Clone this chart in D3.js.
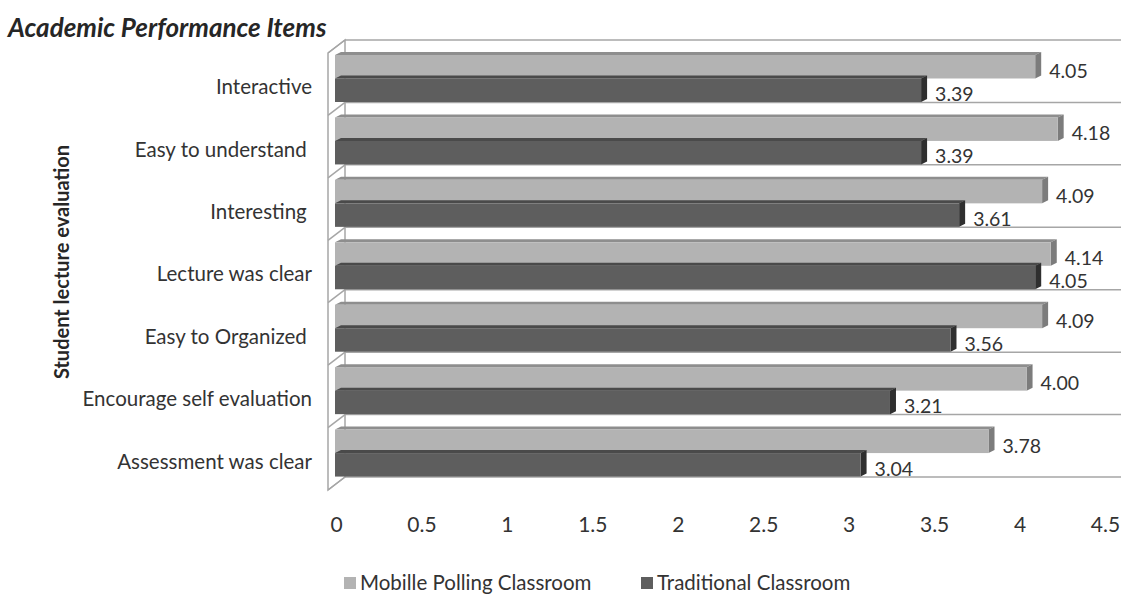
<!DOCTYPE html>
<html>
<head>
<meta charset="utf-8">
<script src="https://cdn.jsdelivr.net/npm/d3@7"></script>
<style>
  body { margin: 0; background: #fff; }
  svg { display: block; font-family: Lato, "Open Sans", sans-serif; }
</style>
</head>
<body>
<svg id="chart" width="1123" height="596"></svg>
<script>
const categories = [
  'Interactive',
  'Easy to understand ',
  'Interesting ',
  'Lecture was clear',
  'Easy to Organized ',
  'Encourage self evaluation',
  'Assessment was clear'
]
const seriesNames = ['Mobille Polling Classroom', 'Traditional Classroom']
const mobileValues = [4.05, 4.18, 4.09, 4.14, 4.09, 4.00, 3.78]
const traditionalValues = [3.39, 3.39, 3.61, 4.05, 3.56, 3.21, 3.04]
const tickValues = [0, 0.5, 1, 1.5, 2, 2.5, 3, 3.5, 4, 4.5]

const colors = {
  front: ['#b3b3b3', '#5e5e5e'],
  side: ['#7c7c7c', '#2f2f2f'],
  top: ['#8e8e8e', '#4a4a4a']
}

const svg = d3.select('#chart')

// 3d box: back wall and left floor
const depthX = 17, depthY = 13
const barDX = 6, barDY = 3

const xBar = d3.scaleLinear().domain([0, 4.5]).range([335, 1113])
const xTick = d3.scaleLinear().domain([0, 4.5]).range([336, 1105])
const xBack = d3.scaleLinear().domain([0, 4.5]).range([345, 1121])

const y = d3.scaleBand().domain(categories).range([40, 477]).padding(0)
const yInner = d3.scaleBand().domain(seriesNames).range([15, 62])

const yEdges = categories.map(c => y(c)).concat([y.range()[1]])

const g = svg.append('g')

// left wall (floor of a horizontal 3d bar chart)
const wallLeft = xBack(0) - depthX
g.append('polygon')
  .attr('points', [
    [wallLeft, yEdges[0] + depthY],
    [xBack(0), yEdges[0]],
    [xBack(0), yEdges[yEdges.length - 1]],
    [wallLeft, yEdges[yEdges.length - 1] + depthY]
  ].join(' '))
  .style('fill', '#fff')
  .style('stroke', '#a6a6a6')
  .style('stroke-width', 1.5)

// gridlines at category edges: back wall + slanted part on the left wall
g.selectAll('.grid-back')
  .data(yEdges)
  .enter()
  .append('line')
  .attr('x1', xBack(0))
  .attr('x2', xBack(4.5))
  .attr('y1', d => d)
  .attr('y2', d => d)
  .style('stroke', '#a6a6a6')
  .style('stroke-width', 1.5)

g.selectAll('.grid-side')
  .data(yEdges)
  .enter()
  .append('line')
  .attr('x1', wallLeft)
  .attr('x2', xBack(0))
  .attr('y1', d => d + depthY)
  .attr('y2', d => d)
  .style('stroke', '#a6a6a6')
  .style('stroke-width', 1.5)

const rows = []
categories.forEach((c, i) => {
  rows.push({cat: c, s: 0, v: mobileValues[i]})
  rows.push({cat: c, s: 1, v: traditionalValues[i]})
})

const bars = g.selectAll('.bar')
  .data(rows)
  .enter()
  .append('g')
  .attr('class', 'bar')

const top0 = d => y(d.cat) + yInner(seriesNames[d.s])
const bot0 = d => top0(d) + yInner.bandwidth()

bars.append('polygon')
  .attr('points', d => [
    [xBar(0), top0(d)],
    [xBar(0) + barDX, top0(d) - barDY],
    [xBar(d.v) + barDX, top0(d) - barDY],
    [xBar(d.v), top0(d)]
  ].join(' '))
  .style('fill', d => colors.top[d.s])

bars.append('polygon')
  .attr('points', d => [
    [xBar(d.v), top0(d)],
    [xBar(d.v) + barDX, top0(d) - barDY],
    [xBar(d.v) + barDX, bot0(d) - barDY],
    [xBar(d.v), bot0(d)]
  ].join(' '))
  .style('fill', d => colors.side[d.s])

bars.append('rect')
  .attr('x', xBar(0))
  .attr('y', d => top0(d))
  .attr('width', d => xBar(d.v) - xBar(0))
  .attr('height', yInner.bandwidth())
  .style('fill', d => colors.front[d.s])

// value labels
g.selectAll('.value-label')
  .data(rows)
  .enter()
  .append('text')
  .attr('x', d => xBar(d.v) + barDX + 8)
  .attr('y', d => d.s === 0 ? top0(d) + 23 : bot0(d) - 1)
  .text(d => d.v.toFixed(2))
  .style('font-size', '19.5px')
  .style('fill', '#333')

// category labels
g.selectAll('.cat-label')
  .data(categories)
  .enter()
  .append('text')
  .attr('x', 312)
  .attr('y', d => y(d) + 47)
  .attr('dy', '0.35em')
  .text(d => d)
  .style('text-anchor', 'end')
  .style('white-space', 'pre')
  .style('font-size', '20.5px')
  .style('fill', '#333')

// x axis labels
const xAxis = g.append('g')
  .attr('transform', 'translate(0,525)')
  .call(d3.axisBottom(xTick).tickValues(tickValues).tickSize(0).tickPadding(0).tickFormat(d3.format('')))
xAxis.select('.domain').remove()
xAxis.selectAll('text')
  .attr('dy', '0.35em')
  .style('font-family', 'Lato, sans-serif')
  .style('font-size', '21px')
  .style('fill', '#333')

// titles
svg.append('text')
  .attr('x', 8)
  .attr('y', 37)
  .text('Academic Performance Items')
  .style('font-size', '26px')
  .style('font-weight', 'bold')
  .style('font-style', 'italic')
  .style('fill', '#262626')

svg.append('text')
  .attr('transform', 'translate(62,262) rotate(-90)')
  .attr('dy', '0.35em')
  .text('Student lecture evaluation')
  .style('text-anchor', 'middle')
  .style('font-size', '20px')
  .style('font-weight', 'bold')
  .style('fill', '#262626')

// legend
const legendX = [344, 641]
const legend = svg.selectAll('.legend')
  .data(seriesNames)
  .enter()
  .append('g')
  .attr('transform', (d, i) => `translate(${legendX[i]},583)`)
legend.append('rect')
  .attr('x', 0)
  .attr('y', -6)
  .attr('width', 12)
  .attr('height', 12)
  .style('fill', (d, i) => colors.front[i])
legend.append('text')
  .attr('x', 16)
  .attr('dy', '0.35em')
  .text(d => d)
  .style('font-size', '20.5px')
  .style('fill', '#333')
</script>
</body>
</html>
